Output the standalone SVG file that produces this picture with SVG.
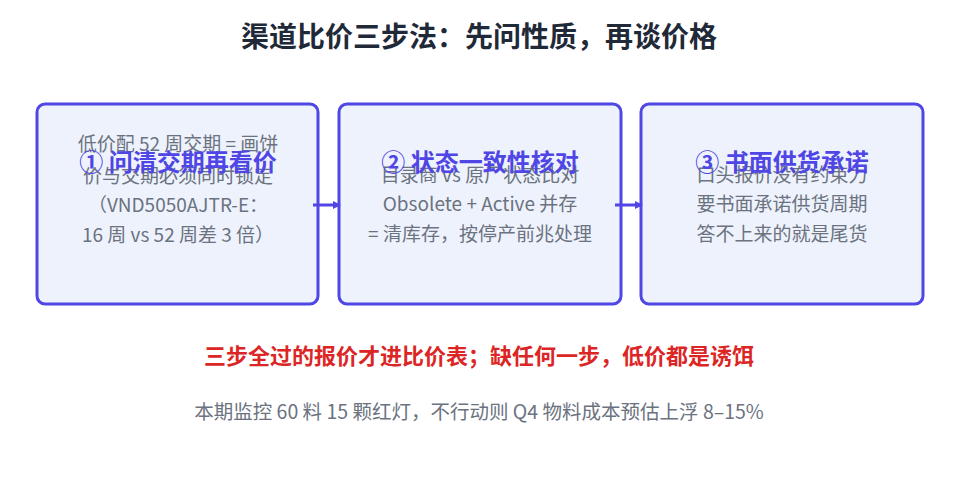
<svg xmlns="http://www.w3.org/2000/svg" width="959" height="492" viewBox="0 0 959 492">
<style>
text{font-family:"Noto Sans CJK SC","Noto Sans",sans-serif;text-anchor:middle}
.box{fill:#eef2fd;stroke:#4f46e5;stroke-width:3}
.h{font-size:24px;font-weight:bold;fill:#4f46e5}
.b{font-size:19px;fill:#6b7280}
.c{stroke:#4f46e5;stroke-width:3;fill:none;marker-end:url(#ah)}
</style>
<defs><marker id="ah" markerWidth="8" markerHeight="8" refX="6" refY="4" orient="auto" markerUnits="userSpaceOnUse"><path d="M0,0L8,4L0,8z" fill="#4f46e5"/></marker></defs>
<rect width="959" height="492" fill="#fff"/>
<text x="479" y="47" style="font-size:28px;font-weight:bold;fill:#1f2937">渠道比价三步法：先问性质，再谈价格</text>
<g id="n1"><rect class="box" x="37" y="104" width="281" height="200" rx="8"/>
<text class="b" x="178" y="151">低价配 52 周交期 = 画饼</text>
<text class="b" x="178" y="183">价与交期必须同时锁定</text>
<text class="b" x="178" y="212">（VND5050AJTR-E：</text>
<text class="b" x="178" y="242">16 周 vs 52 周差 3 倍）</text>
<text class="h" x="178" y="171">① 问清交期再看价</text></g>
<g id="n2"><rect class="box" x="339" y="104" width="282" height="200" rx="8"/>
<text class="b" x="480" y="182">目录商 vs 原厂状态比对</text>
<text class="b" x="480" y="211">Obsolete + Active 并存</text>
<text class="b" x="480" y="241">= 清库存，按停产前兆处理</text>
<text class="h" x="480" y="171">② 状态一致性核对</text></g>
<g id="n3"><rect class="box" x="641" y="104" width="282" height="200" rx="8"/>
<text class="b" x="782" y="182">口头报价没有约束力</text>
<text class="b" x="782" y="211">要书面承诺供货周期</text>
<text class="b" x="782" y="241">答不上来的就是尾货</text>
<text class="h" x="782" y="171">③ 书面供货承诺</text></g>
<g id="connectors"><path class="c" d="M313,205H339"/><path class="c" d="M615,205H641"/></g>
<text x="479" y="364" style="font-size:22px;font-weight:bold;fill:#dc2626">三步全过的报价才进比价表；缺任何一步，低价都是诱饵</text>
<text x="479" y="419" style="font-size:19.5px;fill:#6b7280">本期监控 60 料 15 颗红灯，不行动则 Q4 物料成本预估上浮 8–15%</text>
</svg>
